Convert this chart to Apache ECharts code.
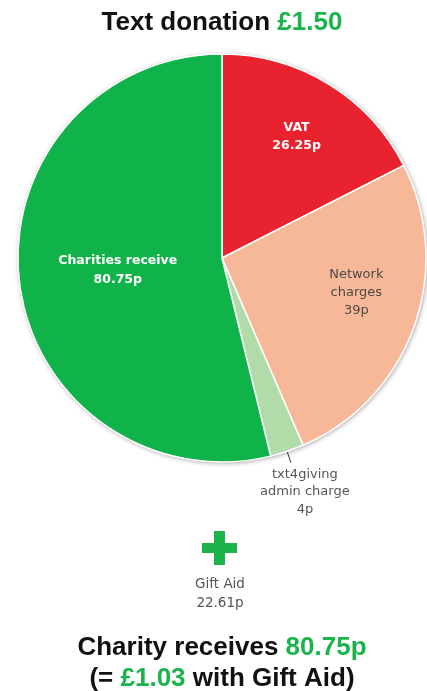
<!DOCTYPE html>
<html><head><meta charset="utf-8">
<script src="https://cdn.jsdelivr.net/npm/echarts@6/dist/echarts.min.js"></script>
<style>html,body{margin:0;padding:0;background:#fff}#c{width:427px;height:691px}</style>
</head><body><div id="c"></div>
<script>
// ---- data ----
const categories = ['VAT', 'Network charges', 'txt4giving admin charge', 'Charities receive'];
const values = [26.25, 39, 4, 80.75];            // pence
const labelTexts = ['VAT\n26.25p', 'Network\ncharges\n39p', 'txt4giving\nadmin charge\n4p', 'Charities receive\n80.75p'];
const colors = ['#e8232f', '#f6b899', '#b1dcaa', '#10b24a'];
const donationTotal = '£1.50';
const charityReceives = '80.75p';
const withGiftAid = '£1.03';
const giftAidLabel = ['Gift Aid', '22.61p'];

const CX = 222, CY = 258, R = 204;
const FF = '"DejaVu Sans", sans-serif';
const TF = '"Liberation Sans", Arial, sans-serif';
const GREEN_TXT = '#1bb34b';

const chart = echarts.init(document.getElementById('c'), null, {renderer: 'canvas'});

const mainData = categories.map((c, i) => {
  const d = {name: c, value: values[i], itemStyle: {color: colors[i]}};
  if (i === 3) {
    d.label = {show: true, position: 'inside', formatter: labelTexts[i], color: '#fff',
      fontWeight: 'bold', fontSize: 12.5, lineHeight: 19, fontFamily: FF};
  } else if (i === 2) {
    d.label = {show: true, position: 'outside', formatter: labelTexts[i], color: '#555',
      fontSize: 13, lineHeight: 17.5, fontFamily: FF, align: 'center'};
    d.labelLine = {show: true, length: 12, length2: 0, lineStyle: {color: '#333', width: 1}};
  }
  return d;
});

const overlayData = categories.map((c, i) => {
  const d = {name: c, value: values[i]};
  if (i === 0) {
    d.label = {show: true, position: 'inside', formatter: labelTexts[i], color: '#fff',
      fontWeight: 'bold', fontSize: 12.5, lineHeight: 18, fontFamily: FF};
  } else if (i === 1) {
    d.label = {show: true, position: 'inside', formatter: labelTexts[i], color: '#4e4a48',
      fontSize: 13, lineHeight: 18, fontFamily: FF};
  }
  return d;
});

chart.setOption({
  animation: false,
  backgroundColor: '#fff',
  series: [
    { // soft outer shadow of the whole disc
      type: 'pie', center: [CX, CY], radius: R, silent: true, z: 1,
      data: [{name: 'disc', value: 1}],
      itemStyle: {color: '#fff', shadowBlur: 5, shadowColor: 'rgba(0,0,0,0.4)', shadowOffsetX: 1, shadowOffsetY: 1},
      label: {show: false}, labelLine: {show: false}, emphasis: {disabled: true}
    },
    {
      type: 'pie', center: [CX, CY], radius: R, startAngle: 90, clockwise: true, silent: true, z: 2,
      data: mainData,
      itemStyle: {borderColor: '#fff', borderWidth: 1.5},
      label: {show: false},
      labelLine: {show: false},
      emphasis: {disabled: true},
      labelLayout: function (p) {
        if (p.dataIndex !== 2 || !p.labelLinePoints) return {};
        const pts = p.labelLinePoints;
        const end = pts[pts.length - 1];
        return {x: end[0] + 14, y: end[1] + 3, align: 'center', verticalAlign: 'top', labelLinePoints: pts};
      }
    },
    {
      type: 'pie', center: [CX, CY], radius: R * 1.37, startAngle: 90, clockwise: true, silent: true, z: 3,
      data: overlayData,
      itemStyle: {color: 'rgba(0,0,0,0)', borderWidth: 0},
      label: {show: false},
      labelLine: {show: false},
      emphasis: {disabled: true},
      labelLayout: function (p) {
        return p.dataIndex === 1 ? {dy: -14} : {};
      }
    }
  ],
  graphic: [
    {type: 'text', x: CX, y: 23, silent: true,
      style: {text: '{a|Text donation }{b|' + donationTotal + '}', align: 'center', verticalAlign: 'middle',
        rich: {
          a: {fontFamily: TF, fontWeight: 'bold', fontSize: 26, fill: '#111'},
          b: {fontFamily: TF, fontWeight: 'bold', fontSize: 26, fill: GREEN_TXT}
        }}},
    {type: 'rect', silent: true, shape: {x: 202, y: 543, width: 35, height: 10}, style: {fill: '#1cb34b'}},
    {type: 'rect', silent: true, shape: {x: 214, y: 531, width: 11, height: 34}, style: {fill: '#1cb34b'}},
    {type: 'text', x: 220, y: 594, silent: true,
      style: {text: giftAidLabel.join('\n'), align: 'center', verticalAlign: 'middle',
        fontFamily: FF, fontSize: 13.5, lineHeight: 19, fill: '#555'}},
    {type: 'text', x: CX, y: 663, silent: true,
      style: {text: '{a|Charity receives }{b|' + charityReceives + '}\n{a|(= }{b|' + withGiftAid + '}{a| with Gift Aid)}',
        align: 'center', verticalAlign: 'middle',
        rich: {
          a: {fontFamily: TF, fontWeight: 'bold', fontSize: 26, lineHeight: 31, fill: '#111'},
          b: {fontFamily: TF, fontWeight: 'bold', fontSize: 26, lineHeight: 31, fill: GREEN_TXT}
        }}}
  ]
});
</script></body></html>
